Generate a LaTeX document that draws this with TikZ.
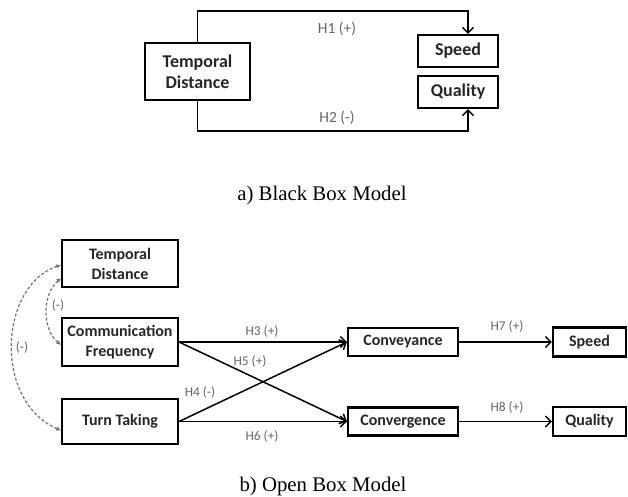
\documentclass[tikz,border=0pt]{standalone}
\usepackage{fontspec}
\setmainfont{Liberation Serif}
\newfontfamily\calfont{Carlito}
\usetikzlibrary{arrows.meta}

\begin{document}
\begin{tikzpicture}[x=1pt,y=-1pt,
    var/.style={draw,line width=2.1pt,align=center,inner sep=0pt,text=black!85,
      font=\calfont\bfseries\fontsize{16}{20}\selectfont},
    bigvar/.style={var,font=\calfont\bfseries\fontsize{18}{21}\selectfont},
    hyp/.style={text=black!60,font=\calfont\fontsize{13.4}{15}\selectfont},
    bighyp/.style={hyp,font=\calfont\fontsize{15.5}{17}\selectfont},
    link/.style={line width=1.5pt,-{Straight Barb[length=5.5pt,width=11pt]}},
    cor/.style={densely dashed,black!55,line width=1.2pt,
      {Latex[length=4.5pt,width=4.5pt]}-{Latex[length=4.5pt,width=4.5pt]}},
    caption/.style={anchor=base,font=\fontsize{20.8}{24}\selectfont}]
\useasboundingbox (0,0) rectangle (628,497);

% a) black box
\node[bigvar,minimum width=105pt,minimum height=57pt] (td1) at (197.5,71.5) {Temporal\\Distance};
\node[bigvar,minimum width=80pt,minimum height=32pt] (sp1) at (458,51) {Speed};
\node[bigvar,minimum width=80pt,minimum height=32pt] (qu1) at (458,92) {Quality};
\coordinate (up) at (468,11);
\coordinate (down) at (468,131);
\draw[link] (td1.north) |- (up) -- (sp1.north -| up);
\draw[link] (td1.south) |- (down) -- (qu1.south -| down);
\node[bighyp] (h1) at (337,29) {H1 (+)};
\node[bighyp] (h2) at (337,118) {H2 (-)};
\node[caption] (capa) at (322,200) {a) Black Box Model};

% b) open box
\node[var,minimum width=116pt,minimum height=47pt] (td2) at (120,263.5) {Temporal\\Distance};
\node[var,minimum width=116pt,minimum height=48pt] (cf) at (120,342) {Communication\\Frequency};
\node[var,minimum width=116pt,minimum height=45pt] (tt) at (120,421.5) {Turn Taking};
\node[var,minimum width=110pt,minimum height=28pt] (cv) at (403,342) {Conveyance};
\node[var,minimum width=110pt,minimum height=28pt] (cg) at (403,421.5) {Convergence};
\node[var,minimum width=73pt,minimum height=29pt] (sp2) at (589.5,342) {Speed};
\node[var,minimum width=73pt,minimum height=29pt] (qu2) at (589.5,421.5) {Quality};

\draw[link] (cf.east) -- (cv.west);
\draw[link] (cf.east) -- (cg.west);
\draw[link] (tt.east) -- (cv.west);
\draw[link] (tt.east) -- (cg.west);
\draw[link] (cv) -- (sp2);
\draw[link] (cg) -- (qu2);
\node[hyp] (h3) at (262,332) {H3 (+)};
\node[hyp] (h5) at (250,362) {H5 (+)};
\node[hyp] (h4) at (200,393) {H4 (-)};
\node[hyp] (h6) at (262,437) {H6 (+)};
\node[hyp] (h7) at (507,327) {H7 (+)};
\node[hyp] (h8) at (507,408) {H8 (+)};

% correlations
\draw[cor] ([yshift=-14.5pt]td2.west) .. controls (42,295) and (42,329) .. ([yshift=-3pt]cf.west);
\draw[cor] ([yshift=-1.5pt]td2.west) .. controls (0,285) and (-8,400) .. ([yshift=-9pt]tt.west);
\node[hyp] (m1) at (58,306) {(-)};
\node[hyp] (m2) at (22,348) {(-)};
\node[caption] (capb) at (323,491) {b) Open Box Model};
\end{tikzpicture}
\end{document}
